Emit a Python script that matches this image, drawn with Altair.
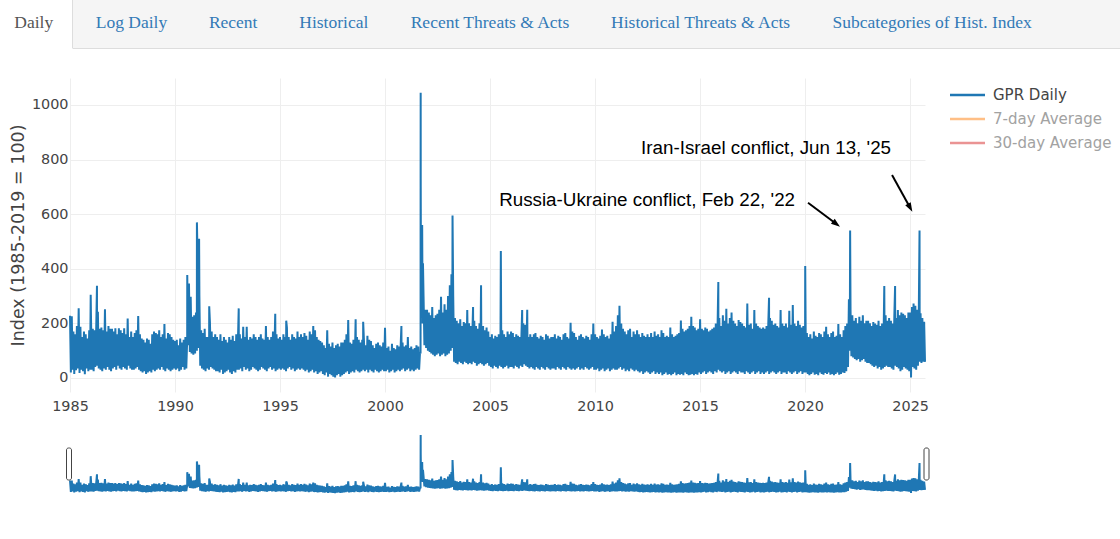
import math

import altair as alt
import pandas as pd

# Geopolitical Risk (GPR) daily index, 1985-01 to 2025-09.
# Each month carries a high reading (start of month) and a low reading (mid-month);
# single-day events are listed separately.
GPR_HIGH = {
    1985: [228, 226, 170, 160, 190, 255, 188, 150, 170, 160, 145, 175],
    1986: [224, 180, 175, 170, 243, 180, 185, 175, 252, 170, 190, 180],
    1987: [180, 170, 182, 160, 182, 175, 165, 182, 160, 218, 150, 170],
    1988: [150, 165, 175, 227, 160, 145, 140, 130, 145, 140, 125, 160],
    1989: [170, 165, 160, 175, 150, 160, 198, 145, 165, 160, 150, 140],
    1990: [135, 140, 120, 145, 130, 140, 150, 140, 346, 298, 224, 230],
    1991: [240, 400, 300, 175, 165, 180, 150, 150, 200, 170, 150, 160],
    1992: [150, 140, 160, 135, 150, 140, 130, 150, 140, 155, 135, 160],
    1993: [150, 160, 145, 188, 150, 188, 140, 150, 145, 160, 150, 140],
    1994: [150, 160, 145, 140, 190, 150, 140, 150, 170, 150, 160, 145],
    1995: [150, 140, 160, 150, 185, 150, 140, 160, 150, 145, 170, 150],
    1996: [160, 150, 165, 155, 140, 170, 160, 190, 175, 150, 140, 135],
    1997: [130, 120, 110, 175, 125, 115, 130, 110, 120, 125, 115, 130],
    1998: [130, 140, 160, 212, 130, 125, 140, 140, 150, 140, 130, 140],
    1999: [130, 120, 155, 140, 135, 120, 110, 125, 130, 120, 115, 130],
    2000: [184, 110, 115, 100, 125, 110, 105, 120, 115, 130, 130, 115],
    2001: [120, 150, 110, 115, 105, 110, 120, 115, 95, 350, 300, 250],
    2002: [250, 240, 230, 260, 220, 230, 235, 250, 298, 240, 270, 250],
    2003: [300, 340, 380, 300, 220, 210, 200, 215, 190, 205, 200, 249],
    2004: [200, 190, 180, 210, 190, 180, 200, 180, 190, 175, 185, 170],
    2005: [150, 160, 145, 155, 150, 160, 150, 175, 160, 150, 170, 160],
    2006: [170, 165, 150, 160, 155, 150, 160, 200, 195, 165, 150, 160],
    2007: [150, 160, 165, 150, 145, 155, 150, 140, 160, 155, 145, 150],
    2008: [150, 160, 145, 155, 150, 140, 160, 165, 150, 145, 202, 170],
    2009: [165, 150, 140, 155, 160, 150, 145, 155, 150, 140, 160, 200],
    2010: [160, 150, 145, 155, 178, 160, 150, 155, 145, 160, 206, 170],
    2011: [190, 230, 265, 200, 180, 170, 160, 175, 180, 150, 170, 160],
    2012: [175, 160, 150, 165, 155, 150, 160, 150, 165, 150, 170, 155],
    2013: [160, 150, 175, 165, 150, 155, 150, 185, 160, 150, 155, 160],
    2014: [165, 211, 180, 170, 175, 180, 190, 224, 190, 185, 175, 180],
    2015: [215, 180, 175, 185, 180, 170, 175, 180, 185, 200, 190, 220],
    2016: [190, 230, 210, 254, 200, 220, 240, 210, 200, 190, 212, 205],
    2017: [200, 190, 185, 273, 195, 200, 180, 249, 200, 190, 185, 180],
    2018: [185, 180, 190, 200, 220, 210, 195, 200, 190, 185, 249, 200],
    2019: [190, 200, 185, 246, 195, 267, 200, 190, 210, 195, 185, 190],
    2020: [180, 165, 150, 160, 145, 170, 155, 150, 165, 160, 150, 170],
    2021: [188, 160, 150, 165, 170, 150, 155, 198, 160, 150, 175, 190],
    2022: [200, 288, 250, 230, 210, 220, 200, 224, 210, 230, 200, 210],
    2023: [210, 200, 190, 205, 200, 195, 210, 190, 200, 215, 230, 210],
    2024: [220, 210, 200, 230, 220, 249, 230, 240, 235, 230, 220, 240],
    2025: [240, 260, 273, 265, 250, 261, 237, 220, 206],
}

GPR_LOW = {
    1985: [20, 30, 15, 28, 35, 18, 30, 25, 14, 35, 25, 30],
    1986: [30, 25, 40, 45, 35, 30, 25, 35, 30, 40, 30, 25],
    1987: [35, 40, 30, 45, 35, 30, 40, 35, 30, 45, 35, 30],
    1988: [30, 35, 40, 30, 25, 20, 25, 15, 20, 25, 20, 30],
    1989: [25, 30, 35, 30, 40, 30, 25, 35, 30, 25, 30, 35],
    1990: [30, 35, 25, 30, 40, 30, 35, 120, 95, 90, 85, 90],
    1991: [100, 110, 45, 35, 30, 25, 35, 30, 40, 35, 30, 25],
    1992: [25, 20, 30, 15, 20, 25, 30, 20, 15, 25, 20, 30],
    1993: [30, 35, 25, 40, 30, 35, 25, 30, 40, 35, 30, 25],
    1994: [30, 40, 35, 30, 25, 35, 40, 30, 35, 25, 30, 35],
    1995: [30, 35, 30, 25, 35, 40, 30, 35, 25, 30, 35, 30],
    1996: [35, 30, 25, 30, 20, 25, 30, 20, 25, 15, 20, 25],
    1997: [15, 10, 20, 5, 15, 10, 5, 2, 10, 15, 5, 10],
    1998: [15, 20, 25, 15, 20, 25, 20, 30, 25, 20, 25, 30],
    1999: [25, 30, 20, 30, 25, 20, 30, 25, 20, 25, 30, 25],
    2000: [25, 30, 20, 25, 30, 20, 25, 30, 25, 30, 35, 25],
    2001: [30, 35, 25, 30, 25, 30, 35, 30, 300, 200, 120, 110],
    2002: [100, 95, 90, 85, 80, 85, 90, 80, 85, 90, 80, 85],
    2003: [90, 100, 110, 60, 55, 50, 60, 55, 50, 60, 55, 50],
    2004: [55, 50, 60, 55, 45, 50, 55, 50, 45, 50, 55, 45],
    2005: [40, 35, 45, 40, 35, 45, 40, 35, 40, 45, 35, 40],
    2006: [40, 35, 45, 40, 35, 45, 40, 50, 45, 40, 35, 40],
    2007: [35, 30, 40, 35, 30, 40, 35, 30, 40, 35, 30, 35],
    2008: [35, 30, 40, 35, 30, 40, 35, 30, 40, 35, 30, 35],
    2009: [30, 35, 40, 30, 35, 30, 40, 35, 30, 35, 40, 30],
    2010: [30, 35, 25, 30, 35, 25, 30, 35, 25, 30, 35, 30],
    2011: [30, 35, 40, 30, 35, 25, 30, 25, 35, 30, 25, 30],
    2012: [25, 20, 25, 15, 20, 25, 20, 15, 20, 25, 15, 20],
    2013: [15, 20, 10, 15, 20, 12, 15, 10, 15, 20, 10, 15],
    2014: [12, 15, 10, 20, 15, 10, 12, 15, 10, 15, 12, 20],
    2015: [15, 20, 25, 15, 20, 25, 20, 15, 25, 20, 30, 25],
    2016: [20, 25, 15, 20, 25, 15, 20, 25, 20, 15, 25, 20],
    2017: [20, 15, 25, 20, 15, 20, 25, 15, 20, 25, 15, 20],
    2018: [15, 20, 25, 15, 20, 25, 20, 15, 20, 25, 15, 20],
    2019: [20, 15, 25, 20, 15, 20, 25, 15, 20, 25, 15, 20],
    2020: [20, 15, 10, 15, 20, 12, 15, 10, 20, 15, 12, 18],
    2021: [15, 20, 12, 15, 10, 15, 20, 12, 15, 20, 18, 25],
    2022: [40, 100, 80, 75, 70, 65, 70, 60, 65, 70, 60, 55],
    2023: [55, 50, 45, 40, 45, 35, 40, 30, 35, 40, 45, 40],
    2024: [40, 35, 30, 45, 40, 35, 25, 30, 40, 35, 30, 25],
    2025: [2, 40, 35, 30, 45, 60, 55, 60, 59],
}

GPR_EVENTS = [
    ("1985-12-27", 305), ("1986-04-15", 338), ("1990-08-02", 377),
    ("1991-01-17", 570), ("1991-02-24", 510), ("1991-08-19", 263),
    ("1993-01-13", 255), ("1994-10-10", 235), ("1995-04-19", 210),
    ("1998-08-08", 215), ("1998-12-17", 206), ("2000-10-12", 190),
    ("2001-09-10", 90), ("2001-09-11", 730), ("2001-09-12", 1045),
    ("2001-09-13", 700), ("2001-09-14", 620), ("2001-09-19", 520),
    ("2001-09-25", 430), ("2001-10-08", 560), ("2001-10-22", 420),
    ("2003-03-20", 595), ("2004-03-11", 260), ("2004-07-28", 340),
    ("2005-07-07", 465), ("2006-07-13", 249), ("2006-10-09", 250),
    ("2015-11-14", 352), ("2018-04-14", 294), ("2020-01-03", 410),
    ("2022-02-22", 540), ("2023-10-09", 337), ("2024-04-14", 337),
    ("2025-06-13", 540),
]

ANNOTATIONS = [
    ("2022-02-22", "Russia-Ukraine conflict, Feb 22, '22"),
    ("2025-06-13", "Iran-Israel conflict, Jun 13, '25"),
]

TAB_LABELS = ["Daily", "Log Daily", "Recent", "Historical", "Recent Threats & Acts",
              "Historical Threats & Acts", "Subcategories of Hist. Index"]

LEGEND_LABELS = ["GPR Daily", "7-day Average", "30-day Average"]
LEGEND_COLORS = ["#1f77b4", "#ff7f0e", "#d62728"]
LEGEND_VISIBLE = [True, False, False]

Y_TICKS = [0, 200, 400, 600, 800, 1000]
X_TICK_YEARS = list(range(1985, 2026, 5))

# ---- layout (page pixels) ----
PAGE_W, PAGE_H = 1120, 539
PLOT_LEFT, PLOT_TOP, PLOT_W, PLOT_H = 70, 78, 855, 314
Y_DOMAIN = [-51.3, 1098.9]
SLIDER_TOP, SLIDER_BOTTOM = 432, 496
TAB_TEXT_X = [14.3, 95.7, 208.9, 299.3, 410.7, 611.1, 832.5]
TAB_BASELINE = 27.9
TAB_BAR_BOTTOM = 48
ACTIVE_TAB_RIGHT = 72.5
LEGEND_Y = [95, 119, 143]
ARROW_LAYOUT = [
    # tail (dx, dy), tip (dx, dy), text anchor (dx, dy) relative to the marked point
    {"tail": (-42.1, -27.9), "tip": (-10.1, -3.9), "text": (-55.1, -24.6)},
    {"tail": (-27.5, -55.6), "tip": (-7.2, -18.9), "text": (-28.5, -76.6)},
]

# ---- build the daily series ----
rows = []
for year, highs in GPR_HIGH.items():
    for month, (hi, lo) in enumerate(zip(highs, GPR_LOW[year]), start=1):
        rows.append((pd.Timestamp(year=year, month=month, day=1), hi))
        rows.append((pd.Timestamp(year=year, month=month, day=16), lo))
for day, value in GPR_EVENTS:
    rows.append((pd.Timestamp(day), value))
gpr = pd.DataFrame(rows, columns=["date", "gpr"]).sort_values("date").reset_index(drop=True)
first_day, last_day = gpr["date"].min(), gpr["date"].max()
gpr["date"] = gpr["date"].dt.strftime("%Y-%m-%dT%H:%M:%S")


def dt(ts):
    return alt.DateTime(year=ts.year, month=ts.month, date=ts.day)


def time_scale():
    return alt.Scale(domain=[dt(first_day), dt(last_day)], nice=False)


def value_scale(rng=None):
    if rng is None:
        return alt.Scale(domain=Y_DOMAIN, nice=False, zero=False)
    return alt.Scale(domain=Y_DOMAIN, range=rng, nice=False, zero=False)


# page-pixel scales for the page furniture (tabs, legend, slider handles)
PX = alt.Scale(domain=[0, PAGE_W], range=[-PLOT_LEFT, PAGE_W - PLOT_LEFT], nice=False, zero=False)
PY = alt.Scale(domain=[0, PAGE_H], range=[-PLOT_TOP, PAGE_H - PLOT_TOP], nice=False, zero=False)

FONT = "DejaVu Sans"
INK = "#444444"

x_axis = alt.Axis(
    values=[alt.DateTime(year=y, month=1, date=1) for y in X_TICK_YEARS],
    format="%Y", title=None, grid=True, gridColor="#eeeeee", gridWidth=1,
    domain=False, ticks=False, tickSize=0, labelPadding=7, labelFlush=False,
    labelOverlap=False, labelFont=FONT, labelFontSize=14.4, labelColor=INK,
)
y_axis = alt.Axis(
    values=Y_TICKS, format="d", title="Index (1985-2019 = 100)", grid=True,
    gridColor="#eeeeee", gridWidth=1, domain=False, ticks=False, tickSize=0,
    labelPadding=2, labelFlush=False,
    labelFont=FONT, labelFontSize=14.4, labelColor=INK,
    titleFont=FONT, titleFontSize=17.5, titleFontWeight="normal", titleColor=INK,
    titleAngle=270, titleAlign="center", titleBaseline="middle",
    titleX=18 - PLOT_LEFT, titleY=PLOT_H / 2,
)

main_line = alt.Chart(gpr).mark_line(color="#1f77b4", strokeWidth=2, strokeJoin="bevel").encode(
    x=alt.X("date:T", scale=time_scale(), axis=x_axis),
    y=alt.Y("gpr:Q", scale=value_scale(), axis=y_axis),
)

slider_line = alt.Chart(gpr).mark_line(color="#1f77b4", strokeWidth=2, strokeJoin="bevel").encode(
    x=alt.X("date:T", scale=time_scale(), axis=None),
    y=alt.Y("gpr:Q", axis=None,
            scale=value_scale([SLIDER_BOTTOM - PLOT_TOP, SLIDER_TOP - PLOT_TOP])),
)

# ---- annotations with arrows ----
event_value = dict(GPR_EVENTS)
note_layers = []
HEAD_SIZE = 81  # symbol area; the custom path spans 2 units of sqrt(size)/2 px
head_len = math.sqrt(HEAD_SIZE)
for (day, text), lay in zip(ANNOTATIONS, ARROW_LAYOUT):
    point = pd.DataFrame([{"date": pd.Timestamp(day).strftime("%Y-%m-%dT%H:%M:%S"),
                           "gpr": event_value[day], "label": text}])
    (tx, ty), (hx, hy), (lx, ly) = lay["tail"], lay["tip"], lay["text"]
    length = math.hypot(hx - tx, hy - ty)
    ux, uy = (hx - tx) / length, (hy - ty) / length
    cx, cy = hx - ux * head_len / 2, hy - uy * head_len / 2
    angle = math.degrees(math.atan2(ux, -uy)) % 360
    enc = dict(x=alt.X("date:T", scale=time_scale(), axis=None),
               y=alt.Y("gpr:Q", scale=value_scale(), axis=None))
    base = alt.Chart(point)
    note_layers.append(
        base.mark_rule(color="black", strokeWidth=2, xOffset=tx, yOffset=ty,
                       x2Offset=cx, y2Offset=cy).encode(x2="date:T", y2="gpr:Q", **enc)
    )
    note_layers.append(
        base.mark_point(shape="M0,-1L0.7,1L-0.7,1Z", size=HEAD_SIZE, filled=True,
                        color="black", opacity=1, strokeWidth=0, angle=angle,
                        xOffset=cx, yOffset=cy).encode(**enc)
    )
    note_layers.append(
        base.mark_text(align="right", baseline="alphabetic", dx=lx, dy=ly,
                       font="Liberation Sans", fontSize=18.8, color="black").encode(
            text="label:N", **enc)
    )

# ---- tab bar ----
tab_bg = pd.DataFrame([{"x0": ACTIVE_TAB_RIGHT, "x1": PAGE_W, "y0": 0,
                        "y1": TAB_BAR_BOTTOM, "fill": "#f5f5f5"}])
tab_lines = pd.DataFrame([
    {"x0": ACTIVE_TAB_RIGHT, "x1": PAGE_W, "y0": TAB_BAR_BOTTOM + 0.5, "y1": TAB_BAR_BOTTOM + 0.5},
    {"x0": ACTIVE_TAB_RIGHT, "x1": ACTIVE_TAB_RIGHT, "y0": 0, "y1": TAB_BAR_BOTTOM},
])
tab_text = pd.DataFrame({
    "label": TAB_LABELS, "x": TAB_TEXT_X, "y": [TAB_BASELINE] * len(TAB_LABELS),
    "color": ["#555555"] + ["#337ab7"] * (len(TAB_LABELS) - 1),
})

tabs_rect = alt.Chart(tab_bg).mark_rect().encode(
    x=alt.X("x0:Q", scale=PX, axis=None), x2="x1:Q",
    y=alt.Y("y0:Q", scale=PY, axis=None), y2="y1:Q",
    color=alt.Color("fill:N", scale=None),
)
tabs_rule = alt.Chart(tab_lines).mark_rule(color="#dddddd", strokeWidth=1).encode(
    x=alt.X("x0:Q", scale=PX, axis=None), x2="x1:Q",
    y=alt.Y("y0:Q", scale=PY, axis=None), y2="y1:Q",
)
tabs_label = alt.Chart(tab_text).mark_text(
    align="left", baseline="alphabetic", font="Liberation Serif", fontSize=17.5
).encode(
    x=alt.X("x:Q", scale=PX, axis=None), y=alt.Y("y:Q", scale=PY, axis=None),
    text="label:N", color=alt.Color("color:N", scale=None),
)

# ---- legend ----
legend_df = pd.DataFrame({
    "label": LEGEND_LABELS, "color": LEGEND_COLORS,
    "opacity": [1.0 if v else 0.5 for v in LEGEND_VISIBLE],
    "text_color": [INK if v else "#a2a2a2" for v in LEGEND_VISIBLE],
    "y": LEGEND_Y, "ty": [y + 5.4 for y in LEGEND_Y],
    "x0": [950] * 3, "x1": [985] * 3, "tx": [993] * 3,
})
legend_lines = alt.Chart(legend_df).mark_rule(strokeWidth=2.5).encode(
    x=alt.X("x0:Q", scale=PX, axis=None), x2="x1:Q",
    y=alt.Y("y:Q", scale=PY, axis=None),
    color=alt.Color("color:N", scale=None),
    opacity=alt.Opacity("opacity:Q", scale=None),
)
legend_text = alt.Chart(legend_df).mark_text(
    align="left", baseline="alphabetic", font=FONT, fontSize=15
).encode(
    x=alt.X("tx:Q", scale=PX, axis=None), y=alt.Y("ty:Q", scale=PY, axis=None),
    text="label:N", color=alt.Color("text_color:N", scale=None),
)

# ---- range slider handles ----
handles = pd.DataFrame([
    {"x0": 66.5, "x1": 71.5, "y0": 448, "y1": 480},
    {"x0": 924, "x1": 929, "y0": 448, "y1": 480},
])
slider_handles = alt.Chart(handles).mark_rect(
    fill="white", stroke="#444444", strokeWidth=1, cornerRadius=2
).encode(
    x=alt.X("x0:Q", scale=PX, axis=None), x2="x1:Q",
    y=alt.Y("y0:Q", scale=PY, axis=None), y2="y1:Q",
)

chart = alt.layer(
    tabs_rect, tabs_rule, tabs_label,
    main_line, slider_line, *note_layers,
    legend_lines, legend_text, slider_handles,
).resolve_scale(
    x="independent", y="independent", color="independent", opacity="independent"
).properties(
    width=PLOT_W, height=PLOT_H,
    padding={"left": PLOT_LEFT, "top": PLOT_TOP,
             "right": PAGE_W - PLOT_LEFT - PLOT_W, "bottom": PAGE_H - PLOT_TOP - PLOT_H},
    autosize=alt.AutoSizeParams(type="none"),
    background="white",
).configure_view(stroke=None)

chart.save("out.html", embed_options={"renderer": "svg", "actions": False})
